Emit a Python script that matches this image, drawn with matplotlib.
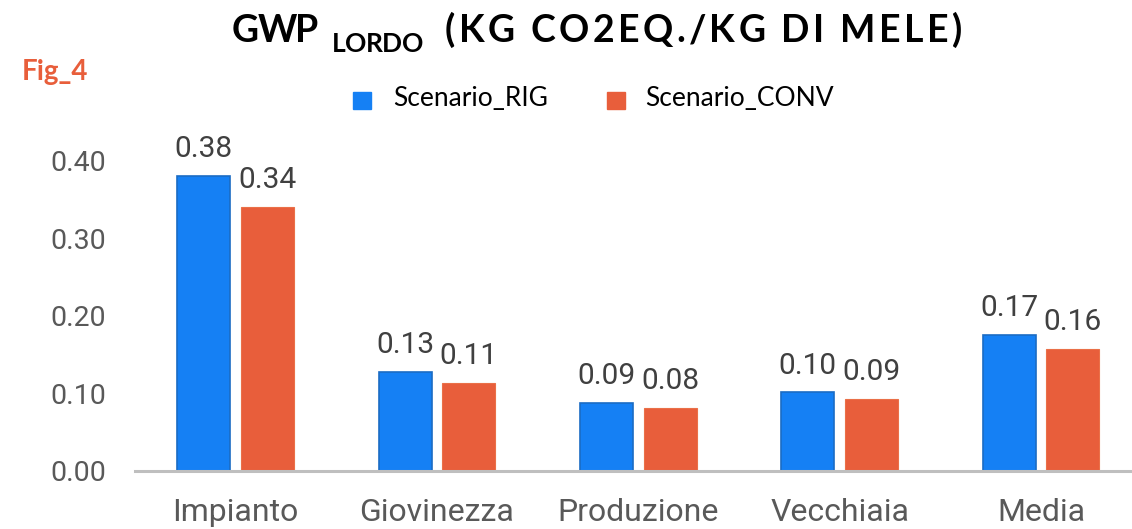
import matplotlib
matplotlib.use("Agg")
import numpy as np
import matplotlib.pyplot as plt
from matplotlib.patches import Rectangle

# dati (kg CO2eq./kg di mele)
categorie = ["Impianto", "Giovinezza", "Produzione", "Vecchiaia", "Media"]
rig = [0.380, 0.128, 0.088, 0.101, 0.175]
conv = [0.340, 0.113, 0.081, 0.093, 0.157]
serie = ["Scenario_RIG", "Scenario_CONV"]
yticks = [0.0, 0.1, 0.2, 0.3, 0.4]

blu = "#1580f4"
blu_bordo = "#1b6cc4"
arancio = "#e85e3b"
grigio = "#595959"

W, H = 1132, 529
fig = plt.figure(figsize=(W / 100, H / 100), dpi=100)
# asse: x da 135 px a bordo destro, y=0 a 470.7 px dall'alto
ax = fig.add_axes([135 / W, (H - 470.7) / H, (W - 135) / W, 341 / H])

x = np.arange(len(categorie))
bw = 0.263
off = 0.158
b1 = ax.bar(x - off, rig, bw, color=blu, edgecolor=blu_bordo, linewidth=1.2)
b2 = ax.bar(x + off, conv, bw, color=arancio, edgecolor="#ea7048", linewidth=0.8)

for bars, vals in [(b1, rig), (b2, conv)]:
    for r, v in zip(bars, vals):
        ax.annotate(f"{v:.2f}", (r.get_x() + r.get_width() / 2, v),
                    xytext=(0, 13.5), textcoords="offset points",
                    ha="center", va="baseline", fontsize=21.5,
                    color="#404040", family="Roboto")

ax.set_xlim(-0.5, 4.5 - (1141.6 - 1132) / 201.25)
ax.set_ylim(0, 0.44)
ax.set_yticks(yticks)
ax.set_yticklabels([f"{t:.2f}" for t in yticks], fontsize=20.5,
                   color=grigio, family="Roboto")
ax.set_xticks(x)
ax.set_xticklabels(categorie, fontsize=23, color=grigio, family="Roboto")
ax.tick_params(axis="y", length=0, pad=21)
ax.tick_params(axis="x", length=0, pad=20)
for s in ["top", "right", "left"]:
    ax.spines[s].set_visible(False)
ax.spines["bottom"].set_color("#bfbfbf")
ax.spines["bottom"].set_linewidth(2.2)

# titolo con pedice e spaziatura larga: ogni lettera posata a mano
fig.canvas.draw()
r = fig.canvas.get_renderer()
tf = ["Lato", "DejaVu Sans"]


def largh(s, fs):
    t = fig.text(0, 0, s, fontsize=fs, fontweight="bold", family=tf)
    w = t.get_window_extent(r).width
    t.remove()
    return w


def spaziato(testo, fs, x0, x1, base):
    wi = largh("I", fs)
    pref = [largh(testo[:i] + "I", fs) - wi if i else 0 for i in range(len(testo))]
    trk = (x1 - x0 - largh(testo, fs)) / (len(testo) - 1)
    for i, c in enumerate(testo):
        if c == " ":
            continue
        fig.text((x0 + pref[i] + i * trk) / W, (H - base) / H, c, fontsize=fs,
                 fontweight="bold", family=tf, ha="left", va="baseline",
                 color="black")


spaziato("GWP", 27, 232, 318, 41.7)
spaziato("LORDO", 19, 332, 423, 52)
spaziato("(KG CO2EQ./KG DI MELE)", 27, 445, 962, 41.7)

fig.text(22 / W, (H - 80) / H, "Fig_4", fontsize=20, fontweight="bold",
         color=arancio, family="Lato", va="baseline")

# legenda
for (x0, x1, xt), nome, col in zip([(353, 371, 393), (607, 625, 645)], serie,
                                   [blu, arancio]):
    fig.patches.append(Rectangle((x0 / W, (H - 109) / H), (x1 - x0) / W, 17 / H,
                                 transform=fig.transFigure, color=col))
    fig.text(xt / W, (H - 106.5) / H, nome, fontsize=19, family="Lato",
             va="baseline", color="black")

fig.savefig("out.png", dpi=100)
